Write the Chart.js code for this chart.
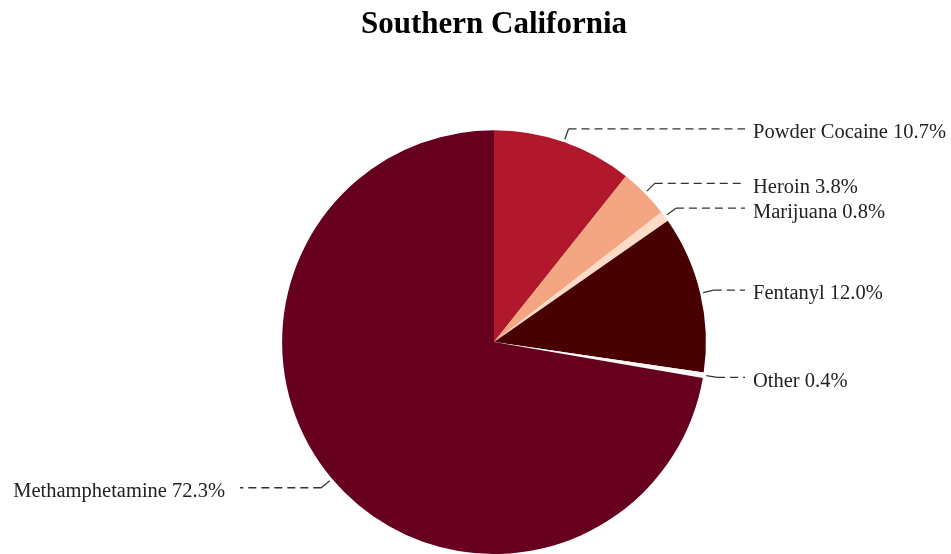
<!DOCTYPE html>
<html>
<head>
<meta charset="utf-8">
<script src="https://cdn.jsdelivr.net/npm/chart.js@4"></script>
<style>
  html, body { margin: 0; padding: 0; background: #fff; }
  #wrap { width: 951px; height: 554px; }
</style>
</head>
<body>
<div id="wrap"><canvas id="graficoDrogas"></canvas></div>
<script>
// Datos del gráfico
const categorias = ['Powder Cocaine', 'Heroin', 'Marijuana', 'Fentanyl', 'Other', 'Methamphetamine'];
const porcentajes = [10.7, 3.8, 0.8, 12.0, 0.4, 72.3];
const colores = ['#b2182b', '#f4a582', '#fddbc7', '#490000', '#f7f7f7', '#67001f'];

// Plugin para dibujar etiquetas con líneas guía punteadas
const etiquetasPlugin = {
    id: 'etiquetasGuia',
    afterDatasetsDraw(chart) {
        const ctx = chart.ctx;
        const meta = chart.getDatasetMeta(0);
        ctx.save();
        ctx.font = '20.5px "Liberation Serif", "DejaVu Serif", serif';
        ctx.textBaseline = 'middle';
        meta.data.forEach((arc, i) => {
            const r = arc.outerRadius;
            const mid = (arc.startAngle + arc.endAngle) / 2;
            const cx = arc.x, cy = arc.y;
            const x0 = cx + (r + 3) * Math.cos(mid);
            const y0 = cy + (r + 3) * Math.sin(mid);
            const x1 = cx + (r + 14) * Math.cos(mid);
            const y1 = cy + (r + 14) * Math.sin(mid);
            const derecha = Math.cos(mid) >= 0;
            const texto = categorias[i] + ' ' + porcentajes[i].toFixed(1) + '%';

            ctx.strokeStyle = '#333';
            ctx.lineWidth = 1.3;
            ctx.setLineDash([]);
            ctx.beginPath();
            ctx.moveTo(x0, y0);
            ctx.lineTo(x1, y1);
            ctx.stroke();

            const xFin = derecha ? 745 : 240;
            ctx.setLineDash([8, 5]);
            ctx.beginPath();
            ctx.moveTo(x1, y1);
            ctx.lineTo(xFin, y1);
            ctx.stroke();

            ctx.fillStyle = '#222';
            ctx.textAlign = derecha ? 'left' : 'right';
            ctx.fillText(texto, derecha ? 753 : 225, y1 + 4);
        });
        ctx.restore();
    }
};

const ctx = document.getElementById('graficoDrogas').getContext('2d');
new Chart(ctx, {
    type: 'pie',
    data: {
        labels: categorias,
        datasets: [{
            data: porcentajes,
            backgroundColor: colores,
            borderWidth: 0
        }]
    },
    options: {
        responsive: true,
        maintainAspectRatio: false,
        animation: false,
        layout: { padding: { left: 37, right: 0, top: 0, bottom: 0 } },
        plugins: {
            legend: { display: false },
            tooltip: { enabled: false },
            title: {
                display: true,
                text: 'Southern California',
                color: '#000',
                font: { family: '"Liberation Serif", "DejaVu Serif", serif', size: 31, weight: 'bold' },
                padding: { top: 6, bottom: 87 }
            }
        }
    },
    plugins: [etiquetasPlugin]
});
</script>
</body>
</html>
